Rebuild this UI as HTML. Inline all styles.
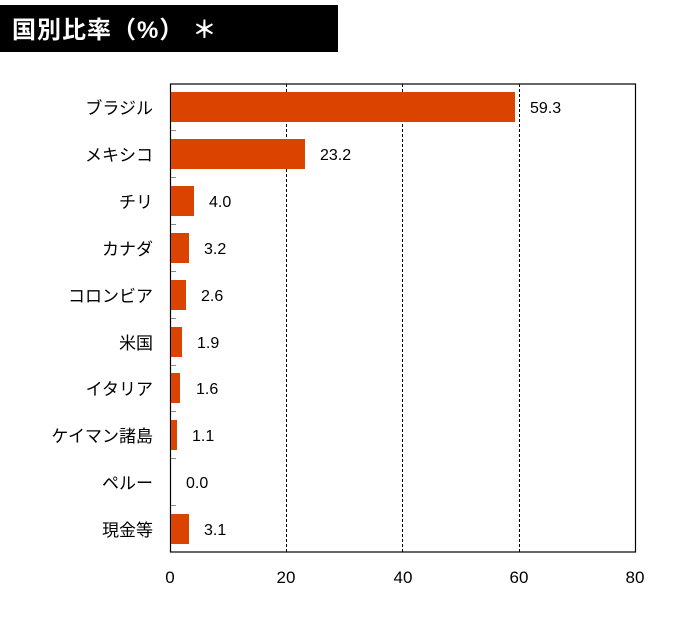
<!DOCTYPE html>
<html><head><meta charset="utf-8"><style>
body{margin:0;background:#fff;}
</style></head><body>
<svg width="674" height="613" xmlns="http://www.w3.org/2000/svg" font-family="'Liberation Sans','Noto Sans CJK JP',sans-serif">
<rect x="0" y="5" width="338" height="47" fill="#000"/>
<text x="12" y="38" font-size="24" font-weight="bold" fill="#fff" letter-spacing="1">国別比率（%）<tspan dx="8">＊</tspan></text>
<g stroke="#000" stroke-width="1" stroke-dasharray="3,2">
<line x1="286.5" y1="84" x2="286.5" y2="552"/>
<line x1="402.5" y1="84" x2="402.5" y2="552"/>
<line x1="519.5" y1="84" x2="519.5" y2="552"/>
</g>
<rect x="170.5" y="84" width="465" height="468" fill="none" stroke="#000" stroke-width="1.2"/>
<g fill="#db4300">
<rect x="171" y="92" width="344" height="30"/>
<rect x="171" y="139" width="134" height="30"/>
<rect x="171" y="186" width="23" height="30"/>
<rect x="171" y="233" width="18" height="30"/>
<rect x="171" y="280" width="15" height="30"/>
<rect x="171" y="327" width="11" height="30"/>
<rect x="171" y="373" width="9" height="30"/>
<rect x="171" y="420" width="6" height="30"/>
<rect x="171" y="514" width="18" height="30"/>
</g>
<g stroke="#888" stroke-width="1">
<line x1="171" y1="130.5" x2="176" y2="130.5"/><line x1="171" y1="177.5" x2="176" y2="177.5"/>
<line x1="171" y1="224.5" x2="176" y2="224.5"/><line x1="171" y1="271.5" x2="176" y2="271.5"/>
<line x1="171" y1="318.5" x2="176" y2="318.5"/><line x1="171" y1="365.5" x2="176" y2="365.5"/>
<line x1="171" y1="411.5" x2="176" y2="411.5"/><line x1="171" y1="458.5" x2="176" y2="458.5"/>
<line x1="171" y1="505.5" x2="176" y2="505.5"/>
</g>
<g font-size="17" text-anchor="end" fill="#000">
<text x="153" y="114">ブラジル</text>
<text x="153" y="161">メキシコ</text>
<text x="153" y="208">チリ</text>
<text x="153" y="255">カナダ</text>
<text x="153" y="302">コロンビア</text>
<text x="153" y="349">米国</text>
<text x="153" y="395">イタリア</text>
<text x="153" y="442">ケイマン諸島</text>
<text x="153" y="489">ペルー</text>
<text x="153" y="536">現金等</text>
</g>
<g font-size="16" fill="#000">
<text x="530" y="113">59.3</text>
<text x="320" y="160">23.2</text>
<text x="209" y="207">4.0</text>
<text x="204" y="254">3.2</text>
<text x="201" y="301">2.6</text>
<text x="197" y="348">1.9</text>
<text x="196" y="394">1.6</text>
<text x="192" y="441">1.1</text>
<text x="186" y="488">0.0</text>
<text x="204" y="535">3.1</text>
</g>
<g font-size="17" text-anchor="middle" fill="#000">
<text x="170" y="583">0</text>
<text x="286" y="583">20</text>
<text x="403" y="583">40</text>
<text x="519" y="583">60</text>
<text x="635" y="583">80</text>
</g>
</svg>
</body></html>
